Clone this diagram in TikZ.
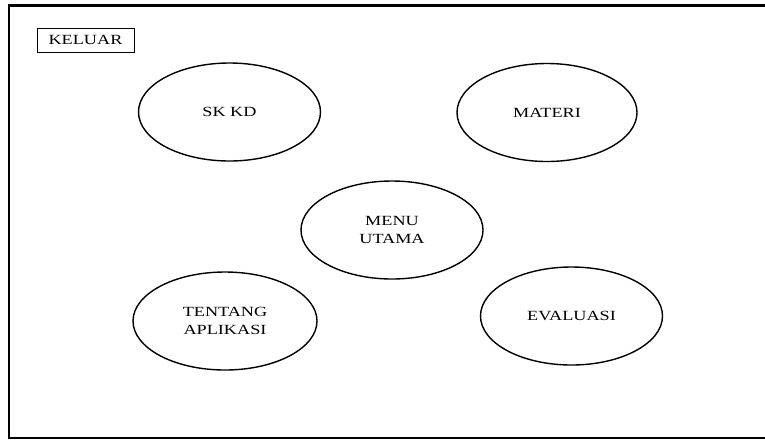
\documentclass[tikz,border=0pt]{standalone}
\usepackage{fontspec}
\setmainfont[FakeStretch=1.3]{Liberation Serif}
\usetikzlibrary{shapes.geometric}

\begin{document}
\begin{tikzpicture}[x=1pt, y=-1pt,
  every node/.style={font=\fontsize{14}{18}\selectfont, align=center, inner sep=0pt},
  menuitem/.style={draw, ellipse, line width=1.4pt, minimum width=182pt, minimum height=98pt},
  exitbox/.style={draw, line width=1pt, minimum width=97pt, minimum height=24pt}]
\useasboundingbox (0,0) rectangle (765,440);
% frame of the screen
\draw[line width=2.6pt] (765,5.5) -- (9,5.5) -- (9,438) -- (765,438);
\node[exitbox] (Keluar) at (85.5,40) {KELUAR};
\node[menuitem] (SkKd) at (229.5,112) {SK KD};
\node[menuitem, minimum width=180pt] (Materi) at (547,112.5) {MATERI};
\node[menuitem] (Menu) at (392,230) {MENU\\UTAMA};
\node[menuitem, minimum width=184pt] (Tentang) at (225,321) {TENTANG\\APLIKASI};
\node[menuitem] (Evaluasi) at (571.5,316) {EVALUASI};
\end{tikzpicture}
\end{document}
